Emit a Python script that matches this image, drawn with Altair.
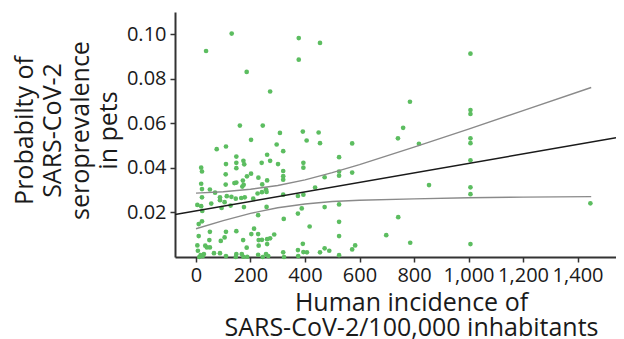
import altair as alt
import pandas as pd

# Scatter points: human incidence (x) vs seroprevalence probability (y)
incidence = [37, 131, 186, 272, 377, 377, 455, 161, 245, 308, 392, 450, 202, 406, 741,
             1007, 785, 1007, 1007, 760, 1007, 818, 1007, 1007, 855, 1007, 1007, 1447, 742, 786,
             1007, 573, 525, 525, 525, 573, 525, 525, 525, 698, 584, 573, 525, 455, 76,
             110, 296, 320, 261, 272, 241, 301, 148, 148, 174, 177, 110, 19, 22, 394,
             394, 472, 320, 320, 320, 109, 202, 187, 172, 170, 148, 141, 229, 261, 243,
             19, 22, 51, 70, 22, 88, 88, 113, 130, 179, 166, 210, 226, 242, 257,
             259, 320, 374, 394, 437, 5, 19, 23, 56, 94, 105, 127, 176, 259, 374,
             388, 472, 10, 22, 10, 51, 91, 110, 105, 148, 203, 213, 228, 228, 230,
             242, 261, 272, 287, 322, 417, 5, 40, 51, 34, 186, 230, 7, 25, 29,
             17, 66, 88, 110, 148, 168, 174, 188, 228, 245, 257, 265, 320, 323, 374,
             375, 394, 407, 455, 472, 489, 12, 148, 109, 175, 146, 49, 173, 146, 261, 392]
seroprev = [0.0925, 0.1003, 0.0831, 0.0743, 0.0983, 0.0886, 0.0961, 0.0590, 0.0590, 0.0557, 0.0563, 0.0559, 0.0526, 0.0523, 0.0533,
            0.0913, 0.0697, 0.0660, 0.0642, 0.0580, 0.0533, 0.0508, 0.0511, 0.0434, 0.0323, 0.0313, 0.0282, 0.0241, 0.0179, 0.0064,
            0.0058, 0.0510, 0.0448, 0.0384, 0.0365, 0.0379, 0.0236, 0.0158, 0.0094, 0.0098, 0.0052, 0.0034, 0.0008, 0.0511, 0.0484,
            0.0496, 0.0505, 0.0475, 0.0459, 0.0432, 0.0423, 0.0417, 0.0451, 0.0423, 0.0432, 0.0416, 0.0417, 0.0401, 0.0384, 0.0423,
            0.0401, 0.0358, 0.0386, 0.0363, 0.0347, 0.0371, 0.0374, 0.0362, 0.0343, 0.0316, 0.0334, 0.0332, 0.0356, 0.0344, 0.0326,
            0.0329, 0.0305, 0.0303, 0.0289, 0.0268, 0.0268, 0.0255, 0.0273, 0.0270, 0.0268, 0.0265, 0.0262, 0.0285, 0.0291, 0.0303,
            0.0292, 0.0280, 0.0274, 0.0280, 0.0312, 0.0234, 0.0228, 0.0207, 0.0240, 0.0220, 0.0246, 0.0231, 0.0224, 0.0225, 0.0195,
            0.0218, 0.0224, 0.0148, 0.0160, 0.0094, 0.0113, 0.0072, 0.0113, 0.0088, 0.0116, 0.0103, 0.0127, 0.0103, 0.0188, 0.0076,
            0.0077, 0.0080, 0.0084, 0.0101, 0.0171, 0.0137, 0.0052, 0.0043, 0.0043, 0.0051, 0.0042, 0.0051, 0.0028, 0.0004, 0.0013,
            0.0008, 0.0017, 0.0017, 0.0004, 0.0013, 0.0013, 0.0001, 0.0001, 0.0010, 0.0000, 0.0013, 0.0004, 0.0021, 0.0000, 0.0031,
            0.0004, 0.0022, 0.0021, 0.0021, 0.0039, 0.0028, 0.0000, 0.0399, 0.0325, 0.0324, 0.0262, 0.0076, 0.0076, 0.0000, 0.0058, 0.0059]

# Fitted regression line (intercept, slope) and its drawn x-extent
fit_intercept = 0.0207
fit_slope = 0.0000213
fit_x = [-77, 1541]

# Confidence band curves
ci_x = [0, 100, 200, 300, 400, 500, 600, 800, 1000, 1200, 1450]
ci_upper = [0.0287, 0.0293, 0.0304, 0.0321, 0.0346, 0.0379, 0.0415, 0.0493, 0.0574, 0.0657, 0.0761]
ci_lower = [0.0127, 0.0163, 0.0196, 0.0221, 0.0238, 0.0249, 0.0255, 0.0261, 0.0266, 0.0269, 0.0271]

x_ticks = [0, 200, 400, 600, 800, 1000, 1200, 1400]
y_ticks = [0.02, 0.04, 0.06, 0.08, 0.10]

pts = pd.DataFrame({"x": incidence, "y": seroprev})
fit = pd.DataFrame({"x": fit_x, "y": [fit_intercept + fit_slope * v for v in fit_x]})
ci = pd.concat([
    pd.DataFrame({"x": ci_x, "y": ci_upper, "band": "upper"}),
    pd.DataFrame({"x": ci_x, "y": ci_lower, "band": "lower"}),
])

FONT = "Open Sans"
xscale = alt.Scale(domain=[-77, 1541], nice=False, zero=False)
yscale = alt.Scale(domain=[0, 0.11], nice=False)

xaxis = alt.Axis(values=x_ticks, format=",.0f", grid=False, labelOverlap=False,
                 title=["Human incidence of", "SARS-CoV-2/100,000 inhabitants"],
                 titleFontSize=25, titleLineHeight=25, titleFontWeight="normal",
                 titlePadding=5, labelPadding=3, titleX=236)
yaxis = alt.Axis(values=y_ticks, format=".2f", grid=False, labelOverlap=False,
                 title=["Probabilty of", "SARS-CoV-2", "seroprevalence", "in pets"],
                 titleFontSize=25, titleLineHeight=28, titleFontWeight="normal",
                 labelPadding=4, titleX=-138, titleY=118)

points = alt.Chart(pts).mark_circle(size=22, color="#5cbd60", opacity=1).encode(
    x=alt.X("x:Q", scale=xscale, axis=xaxis),
    y=alt.Y("y:Q", scale=yscale, axis=yaxis),
)

band = alt.Chart(ci).mark_line(color="#8a8a8a", strokeWidth=1.4).encode(
    x=alt.X("x:Q", scale=xscale),
    y=alt.Y("y:Q", scale=yscale),
    detail="band:N",
)

line = alt.Chart(fit).mark_line(color="#1a1a1a", strokeWidth=1.5, clip=True).encode(
    x=alt.X("x:Q", scale=xscale),
    y=alt.Y("y:Q", scale=yscale),
)

chart = (points + band + line).properties(
    width=441, height=245,
    autosize=alt.AutoSizeParams(type="none"),
    padding={"left": 167, "top": 4, "right": 0, "bottom": 82},
).configure_view(stroke=None).configure_axis(
    labelFont=FONT, titleFont=FONT, labelFontSize=20, labelColor="#1a1a1a",
    titleColor="#1a1a1a", domainColor="#333333", domainWidth=2,
    tickColor="#333333", tickWidth=1.5, tickSize=5,
)

chart.save("out.html", embed_options={"renderer": "svg", "actions": False})
